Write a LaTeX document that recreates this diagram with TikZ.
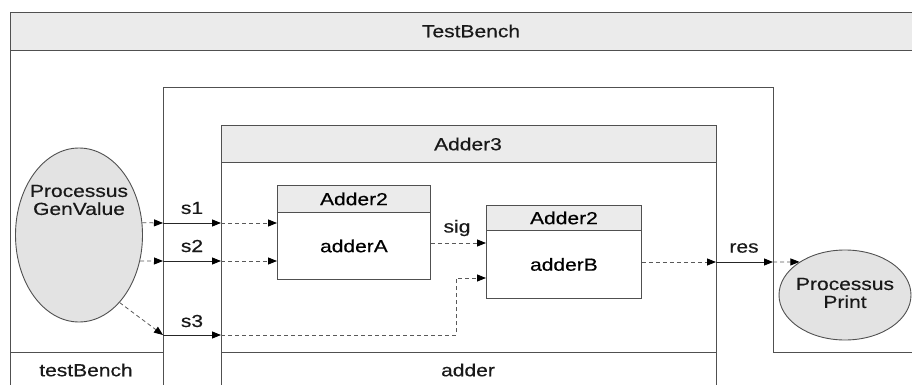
\documentclass[tikz,border=0pt]{standalone}
\usepackage{fontspec}
\setmainfont[FakeStretch=1.2,FakeBold=0.4]{Liberation Sans}
\usetikzlibrary{shapes.geometric,arrows.meta}
\definecolor{linegray}{HTML}{505050}
\definecolor{hdrgray}{HTML}{EBEBEB}
\definecolor{procgray}{HTML}{E3E3E3}
\newcommand\lbl{\fontsize{17.5}{20}\selectfont}
\tikzset{
  frame/.style={draw=linegray, line width=0.9pt},
  hdr/.style={fill=hdrgray, draw=linegray, line width=0.9pt, inner sep=0pt, font=\lbl, anchor=north west},
  bodybox/.style={fill=white, draw=linegray, line width=0.9pt, inner sep=0pt, font=\lbl, anchor=north west},
  proc/.style={ellipse, fill=procgray, draw=linegray, line width=0.9pt, inner sep=0pt},
  tag/.style={font=\lbl, inner sep=0pt, align=center, text=black!90},
  tip/.style={-{Triangle[length=9pt,width=7pt,color=black]}},
  wire/.style={draw=black!85, line width=0.8pt, tip},
  dwire/.style={draw=black!65, line width=0.8pt, dash pattern=on 4pt off 3pt, tip}
}
\begin{document}
\begin{tikzpicture}[x=1pt,y=-1pt]
\useasboundingbox (0,0) rectangle (912,385);

% TestBench frame and header band
\node[hdr, draw=none, minimum width=902, minimum height=38] (tbhead) at (10,12) {};
\draw[frame] (10,385) -- (10,12) -- (912,12);
\draw[frame] (10,50) -- (912,50);
\node[tag] (tbname) at (471,31) {TestBench};

% instance frame of the adder
\draw[frame] (163,385) -- (163,87) -- (773,87) -- (773,352) -- (912,352);
\draw[frame] (10,352) -- (163,352);
\node[tag] (tbinst) at (86,370) {testBench};

% Adder3 block
\node[hdr, minimum width=495, minimum height=37] (a3head) at (221,125) {};
\node[tag] (a3name) at (468,144) {Adder3};
\draw[frame] (221,162) -- (221,385);
\draw[frame] (716,162) -- (716,385);
\draw[frame] (221,352) -- (716,352);
\node[tag] (a3inst) at (468,370) {adder};

% Adder2 instances
\node[hdr, minimum width=153, minimum height=27] (aHead) at (277,185) {Adder2};
\node[bodybox, minimum width=153, minimum height=67] (aBody) at (277,212) {adderA};
\node[hdr, minimum width=155, minimum height=25] (bHead) at (486,205) {Adder2};
\node[bodybox, minimum width=155, minimum height=68] (bBody) at (486,230) {adderB};

% processes
\node[proc, minimum width=127, minimum height=174] (gen) at (79,235) {};
\node[tag] (genname) at (79,200) {Processus\\[-2pt]GenValue};
\node[proc, minimum width=132, minimum height=90] (prt) at (845,295) {};
\node[tag] (prtname) at (845,293) {Processus\\[-2pt]Print};

% ports
\coordinate (p1) at (163,223); \coordinate (q1) at (221,223);
\coordinate (p2) at (163,261); \coordinate (q2) at (221,261);
\coordinate (p3) at (163,335); \coordinate (q3) at (221,335);
\coordinate (r1) at (716,262); \coordinate (r2) at (773,262);
\coordinate (bend1) at (456,335); \coordinate (bend2) at (456,278);

% signals s1, s2, s3
\draw[dwire] (gen.11) -- (p1);
\draw[wire] (p1) -- (q1);
\draw[dwire] (q1) -- (aBody.west |- q1);
\draw[dwire] (gen.-23) -- (p2);
\draw[wire] (p2) -- (q2);
\draw[dwire] (q2) -- (aBody.west |- q2);
\draw[dwire] (gen.-59) -- (p3);
\draw[wire] (p3) -- (q3);
\draw[dwire] (q3) -- (bend1) -- (bend2) -- (bBody.west |- bend2);
\node[tag] (s1) at (192,208) {s1};
\node[tag] (s2) at (192,246) {s2};
\node[tag] (s3) at (192,321) {s3};

% internal signal
\draw[dwire] (aBody.east |- 0,243) -- (bBody.west |- 0,243);
\node[tag] (sig) at (457,228) {sig};

% result
\draw[dwire] (bBody.east |- r1) -- (r1);
\draw[wire] (r1) -- (r2);
\draw[dwire] (r2) -- (prt.144);
\node[tag] (res) at (744,248) {res};
\end{tikzpicture}
\end{document}
